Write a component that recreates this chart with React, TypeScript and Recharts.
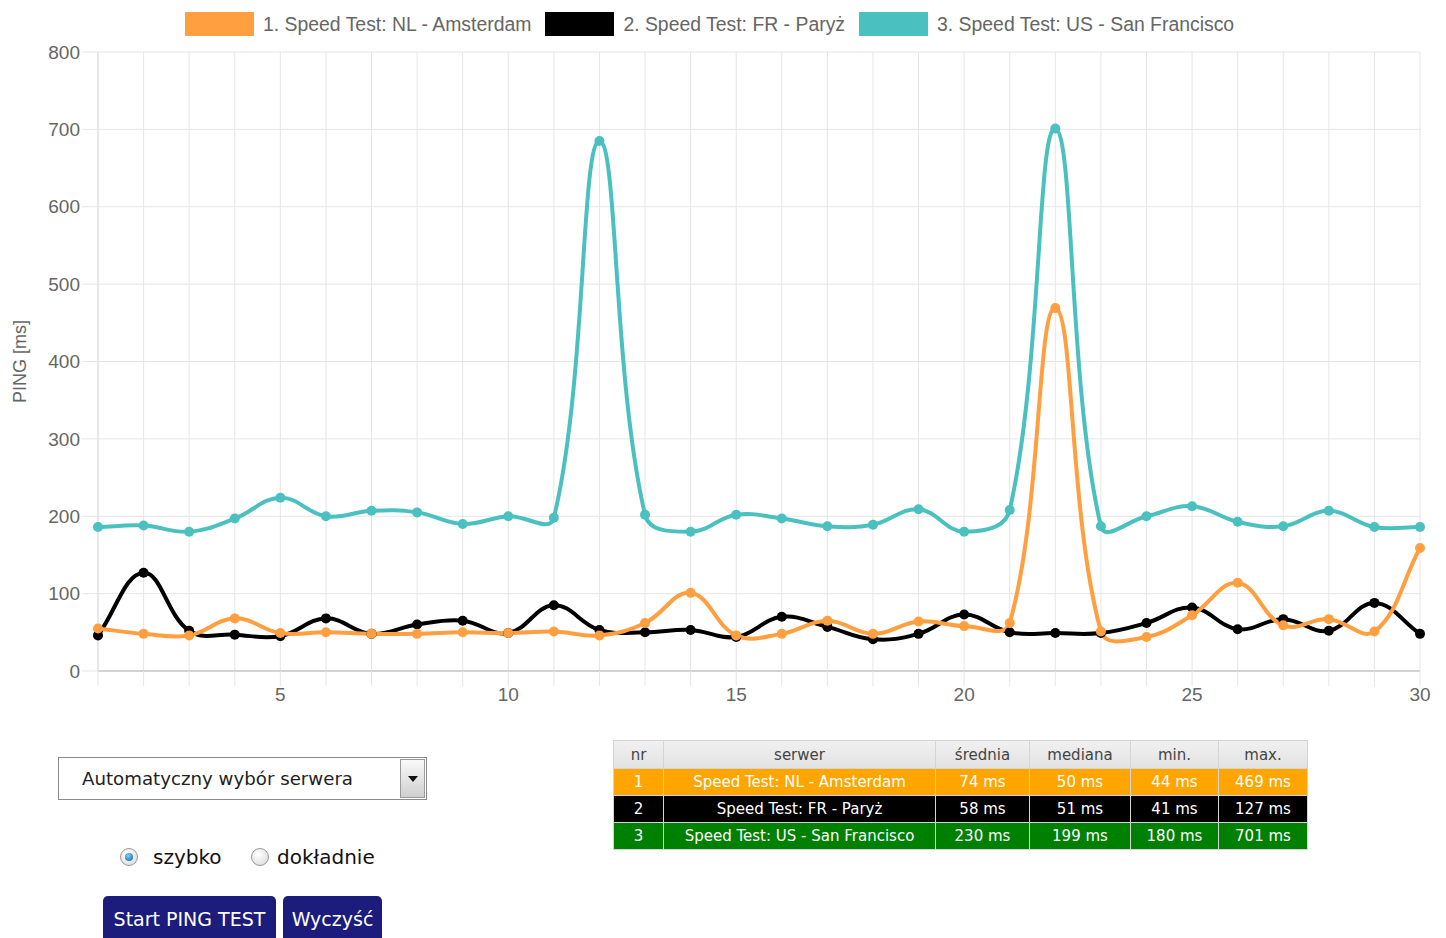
import { CartesianGrid, Label, Line, LineChart, XAxis, YAxis } from "recharts";

// test run numbers (x axis)
const runs = [1, 2, 3, 4, 5, 6, 7, 8, 9, 10, 11, 12, 13, 14, 15, 16, 17, 18, 19, 20, 21, 22, 23, 24, 25, 26, 27, 28, 29, 30];
const xLabelTicks = [5, 10, 15, 20, 25, 30];
const yTicks = [0, 100, 200, 300, 400, 500, 600, 700, 800];

// ping values in ms
const amsterdam = [55, 48, 46, 68, 49, 50, 48, 48, 50, 49, 51, 46, 62, 101, 46, 48, 65, 48, 64, 58, 62, 469, 51, 44, 72, 114, 59, 67, 51, 159];
const paris = [46, 127, 52, 47, 45, 68, 48, 60, 65, 49, 85, 53, 50, 53, 44, 70, 57, 41, 48, 73, 50, 49, 49, 62, 82, 54, 67, 52, 88, 48];
const sanFrancisco = [186, 188, 180, 197, 224, 200, 207, 205, 190, 200, 198, 685, 202, 180, 202, 197, 187, 189, 209, 180, 208, 701, 187, 200, 213, 193, 187, 207, 186, 186];

const seriesKeys = ["nl", "fr", "us"];
const seriesNames = ["1. Speed Test: NL - Amsterdam", "2. Speed Test: FR - Paryż", "3. Speed Test: US - San Francisco"];
const seriesColors = ["#ff9f40", "#000000", "#4bc0c0"];

// summary table
const tableHeader = ["nr", "serwer", "średnia", "mediana", "min.", "max."];
const tableNames = ["Speed Test: NL - Amsterdam", "Speed Test: FR - Paryż", "Speed Test: US - San Francisco"];
const tableAvg = ["74 ms", "58 ms", "230 ms"];
const tableMedian = ["50 ms", "51 ms", "199 ms"];
const tableMin = ["44 ms", "41 ms", "180 ms"];
const tableMax = ["469 ms", "127 ms", "701 ms"];
const rowColors = ["#ffa500", "#000000", "#008000"];
const colWidths = [50, 272, 94, 101, 88, 89];

const data = runs.map((run, i) => ({ run, nl: amsterdam[i], fr: paris[i], us: sanFrancisco[i] }));

const chartFont = "'Liberation Sans', Arial, sans-serif";
const pageFont = "'DejaVu Sans', Verdana, sans-serif";

// chart.js style spline (tension 0.4)
function chartJsCurve(context: any) {
  let pts: number[][] = [];
  const t = 0.4;
  return {
    areaStart() {},
    areaEnd() {},
    lineStart() {
      pts = [];
    },
    point(x: number, y: number) {
      pts.push([+x, +y]);
    },
    lineEnd() {
      if (!pts.length) return;
      const cps = pts.map((cur, i) => {
        const prev = pts[i - 1] || cur;
        const next = pts[i + 1] || cur;
        const d01 = Math.hypot(cur[0] - prev[0], cur[1] - prev[1]);
        const d12 = Math.hypot(next[0] - cur[0], next[1] - cur[1]);
        const sum = d01 + d12 || 1;
        const fa = (t * d01) / sum;
        const fb = (t * d12) / sum;
        return {
          inX: cur[0] - fa * (next[0] - prev[0]),
          inY: cur[1] - fa * (next[1] - prev[1]),
          outX: cur[0] + fb * (next[0] - prev[0]),
          outY: cur[1] + fb * (next[1] - prev[1]),
        };
      });
      context.moveTo(pts[0][0], pts[0][1]);
      for (let i = 1; i < pts.length; i++) {
        context.bezierCurveTo(cps[i - 1].outX, cps[i - 1].outY, cps[i].inX, cps[i].inY, pts[i][0], pts[i][1]);
      }
    },
  };
}

const XTick = (props: any) => {
  const { x, y, payload } = props;
  if (!xLabelTicks.includes(payload.value)) return null;
  return (
    <text x={x} y={y} dy="0.71em" textAnchor="middle" fill="#666" fontSize={19} fontFamily={chartFont}>
      {payload.value}
    </text>
  );
};

const YTitle = (props: any) => {
  const { viewBox } = props;
  const cx = viewBox.x + 20;
  const cy = viewBox.y + viewBox.height / 2;
  return (
    <text x={cx} y={cy} transform={`rotate(-90 ${cx} ${cy})`} textAnchor="middle" dominantBaseline="central" fill="#666" fontSize={18} fontFamily={chartFont}>
      PING [ms]
    </text>
  );
};

function ChartLegend() {
  return (
    <div style={{ position: "absolute", left: 185, top: 12, display: "flex", alignItems: "center", fontFamily: chartFont, fontSize: 19.4, color: "#666" }}>
      {seriesNames.map((name, i) => (
        <div key={name} style={{ display: "flex", alignItems: "center", marginRight: 14 }}>
          <span style={{ display: "inline-block", width: 69, height: 24, background: seriesColors[i], marginRight: 9 }} />
          <span style={{ lineHeight: "24px" }}>{name}</span>
        </div>
      ))}
    </div>
  );
}

function SummaryTable() {
  const cell = { border: "1px solid #d4d4d4", padding: 0, textAlign: "center" as const, height: 26, whiteSpace: "nowrap" as const };
  return (
    <table style={{ position: "absolute", left: 613, top: 740, borderCollapse: "collapse", tableLayout: "fixed", width: 694, fontFamily: pageFont, fontSize: 15 }}>
      <colgroup>
        {colWidths.map((w, i) => (
          <col key={i} style={{ width: w }} />
        ))}
      </colgroup>
      <thead>
        <tr style={{ background: "linear-gradient(#f0f0f0, #e2e2e2)", color: "#444" }}>
          {tableHeader.map((h) => (
            <th key={h} style={{ ...cell, fontWeight: "normal", height: 27 }}>
              {h}
            </th>
          ))}
        </tr>
      </thead>
      <tbody>
        {tableNames.map((name, i) => (
          <tr key={name} style={{ background: rowColors[i], color: "#fff" }}>
            <td style={cell}>{i + 1}</td>
            <td style={cell}>{name}</td>
            <td style={cell}>{tableAvg[i]}</td>
            <td style={cell}>{tableMedian[i]}</td>
            <td style={cell}>{tableMin[i]}</td>
            <td style={cell}>{tableMax[i]}</td>
          </tr>
        ))}
      </tbody>
    </table>
  );
}

function Radio({ checked, label, left, gap }: { checked: boolean; label: string; left: number; gap: number }) {
  return (
    <div style={{ position: "absolute", left, top: 845, display: "flex", alignItems: "center", fontFamily: pageFont, fontSize: 20, color: "#111" }}>
      <span
        style={{
          width: 16,
          height: 16,
          borderRadius: "50%",
          border: "1px solid #999",
          background: "radial-gradient(circle at 40% 35%, #fff, #d6d6d6)",
          display: "inline-flex",
          alignItems: "center",
          justifyContent: "center",
          marginRight: gap,
        }}
      >
        {checked && <span style={{ width: 8, height: 8, borderRadius: "50%", background: "radial-gradient(circle at 40% 35%, #7fd0ff, #0a5a9a)" }} />}
      </span>
      <span>{label}</span>
    </div>
  );
}

function Controls() {
  const btn = {
    position: "absolute" as const,
    top: 896,
    height: 50,
    background: "#1c1c7c",
    color: "#fff",
    fontFamily: pageFont,
    fontSize: 19,
    borderRadius: "5px 5px 0 0",
    display: "flex",
    justifyContent: "center",
    paddingTop: 12,
    boxSizing: "border-box" as const,
    whiteSpace: "nowrap" as const,
  };
  return (
    <>
      <div style={{ position: "absolute", left: 58, top: 757, width: 369, height: 43, border: "1px solid #8a8a8a", boxSizing: "border-box", background: "#fff", fontFamily: pageFont, fontSize: 18.2, color: "#222" }}>
        <span style={{ position: "absolute", left: 23, top: 10, whiteSpace: "nowrap" }}>Automatyczny wybór serwera</span>
        <div style={{ position: "absolute", right: 1, top: 1, width: 25, height: 39, background: "linear-gradient(#fafafa, #cfcfcf)", border: "1px solid #9a9a9a", boxSizing: "border-box" }}>
          <div style={{ position: "absolute", left: 7, top: 16, width: 0, height: 0, borderLeft: "5px solid transparent", borderRight: "5px solid transparent", borderTop: "6px solid #111" }} />
        </div>
      </div>
      <Radio checked label="szybko" left={120} gap={15} />
      <Radio checked={false} label="dokładnie" left={251} gap={8} />
      <div style={{ ...btn, left: 103, width: 173 }}>Start PING TEST</div>
      <div style={{ ...btn, left: 283, width: 99 }}>Wyczyść</div>
    </>
  );
}

export default function App() {
  const drawOrder = [2, 1, 0];
  return (
    <div style={{ position: "absolute", left: 0, top: 0, width: 1446, height: 938, overflow: "hidden", background: "#fff" }}>
      <ChartLegend />
      <div style={{ position: "absolute", left: 0, top: 0 }}>
        <LineChart width={1446} height={720} data={data} margin={{ top: 52, right: 26, bottom: 9, left: 0 }}>
          <CartesianGrid stroke="#e6e6e6" strokeWidth={1} />
          <XAxis
            dataKey="run"
            type="number"
            domain={[1, 30]}
            ticks={runs}
            interval={0}
            height={40}
            tickSize={15}
            tickMargin={2}
            tickLine={{ stroke: "#e6e6e6" }}
            axisLine={{ stroke: "#b3b3b3" }}
            tick={<XTick />}
          />
          <YAxis
            type="number"
            domain={[0, 800]}
            ticks={yTicks}
            interval={0}
            width={98}
            tickSize={16}
            tickMargin={2}
            tickLine={{ stroke: "#e6e6e6" }}
            axisLine={{ stroke: "#dcdcdc" }}
            tick={{ fill: "#666", fontSize: 19, fontFamily: chartFont }}
          >
            <Label content={<YTitle />} />
          </YAxis>
          {drawOrder.map((i) => (
            <Line
              key={seriesKeys[i]}
              dataKey={seriesKeys[i]}
              name={seriesNames[i]}
              type={chartJsCurve as any}
              stroke={seriesColors[i]}
              strokeWidth={4}
              dot={{ r: 5, fill: seriesColors[i], stroke: seriesColors[i], strokeWidth: 0 }}
              activeDot={false}
              isAnimationActive={false}
            />
          ))}
        </LineChart>
      </div>
      <SummaryTable />
      <Controls />
    </div>
  );
}
